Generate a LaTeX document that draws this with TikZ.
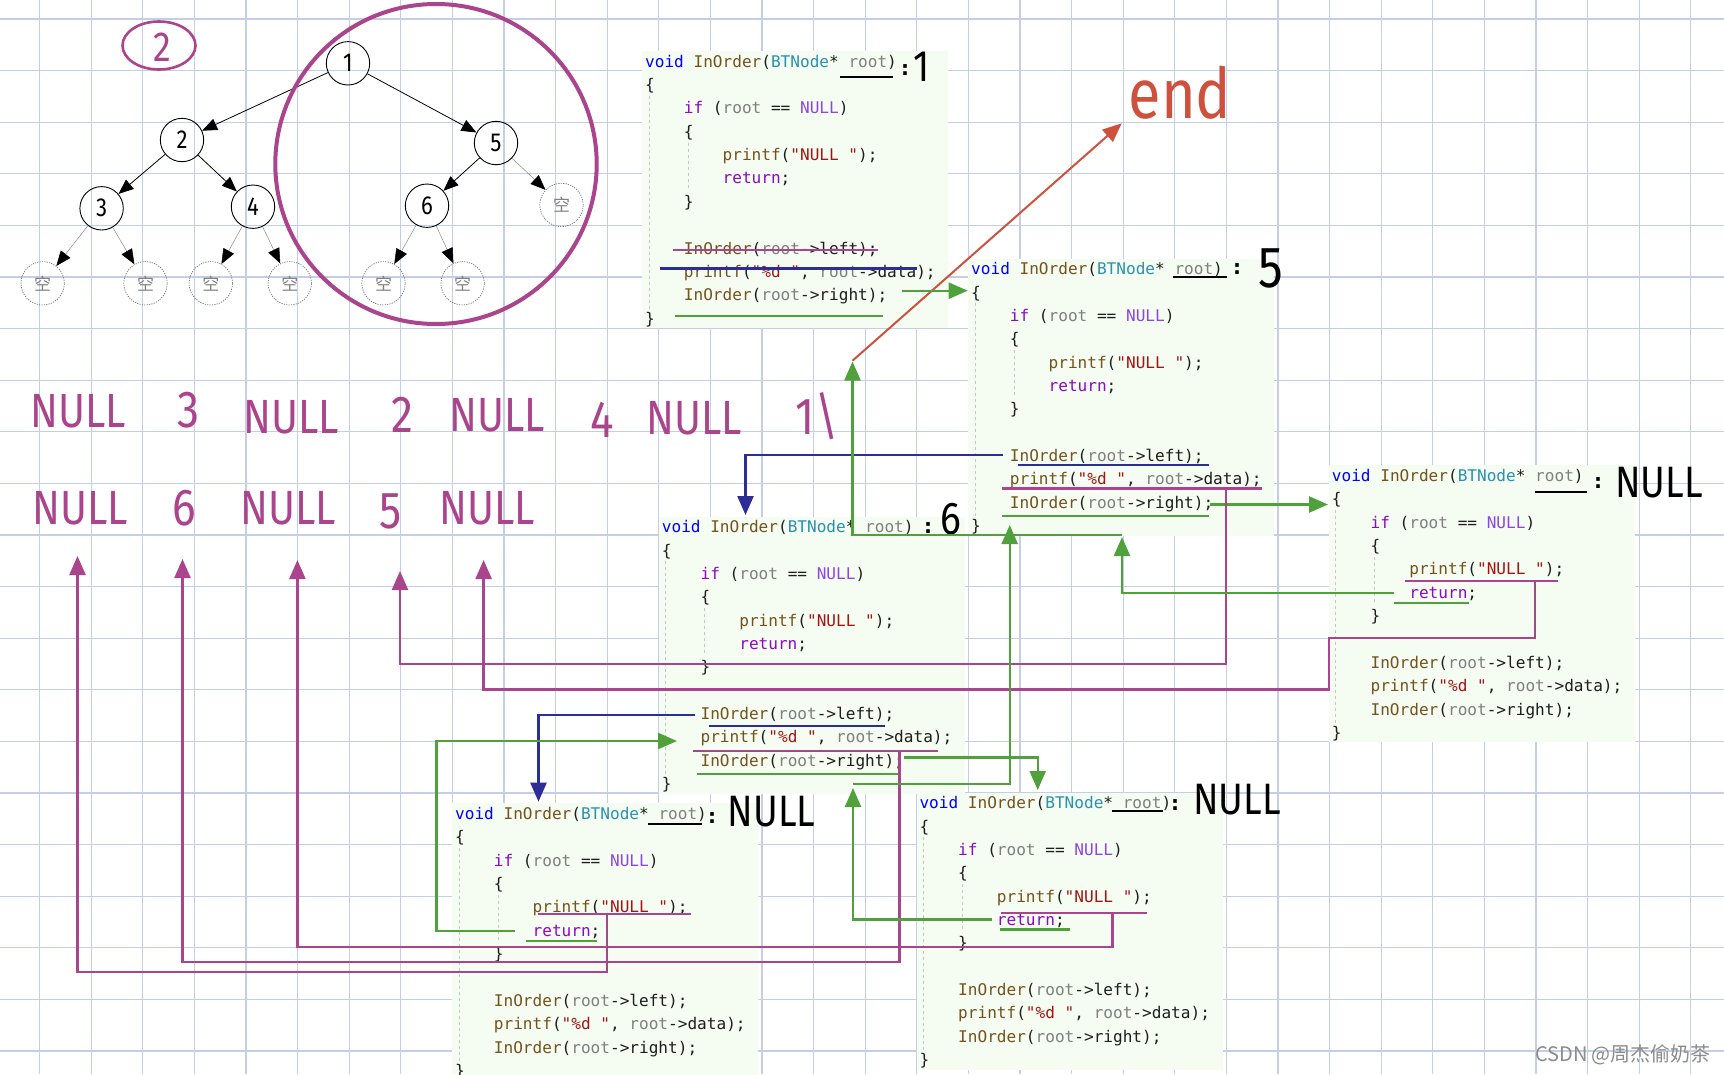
\documentclass[tikz,border=0pt]{standalone}
\usepackage{fontspec}
\usetikzlibrary{arrows.meta}
\newfontfamily\codefont{DejaVu Sans Mono}
\newfontfamily\handfont{Fira Sans}[FakeStretch=0.85]
\newfontfamily\cjkfont{Noto Sans CJK SC}
\newfontfamily\dotfont{DejaVu Sans}
\definecolor{gridc}{RGB}{196,206,230}
\definecolor{boxbg}{RGB}{245,252,241}
\definecolor{cvoid}{RGB}{0,0,255}
\definecolor{cfun}{RGB}{116,83,31}
\definecolor{ctype}{RGB}{43,145,175}
\definecolor{cpar}{RGB}{128,128,128}
\definecolor{ckey}{RGB}{143,8,196}
\definecolor{cmac}{RGB}{140,70,230}
\definecolor{cstr}{RGB}{163,21,21}
\definecolor{cpunc}{RGB}{30,30,30}
\definecolor{pinkc}{RGB}{170,68,140}
\definecolor{greenc}{RGB}{80,160,60}
\definecolor{bluec}{RGB}{45,45,150}
\definecolor{redc}{RGB}{205,82,62}
\newcommand\cf[2]{\textcolor{#1}{#2}}
\newcommand\codeblk[3]{%
  \node[cbox] (#1box) at ({#2-3},{#3-11}) {};
  \draw[guide] ({#2+4},{#3+34}) -- ({#2+4},{#3+251});
  \draw[guide] ({#2+43},{#3+81}) -- ({#2+43},{#3+129});
  \node[code] (#1l1) at (#2,{#3+1.5}) {\cf{cvoid}{void} \cf{cfun}{InOrder}(\cf{ctype}{BTNode}* \cf{cpar}{root})};
  \node[code] (#1l2) at (#2,{#3+1.5+23.35}) {\{};
  \node[code] (#1l3) at ({#2+38.72},{#3+1.5+46.7}) {\cf{ckey}{if} (\cf{cpar}{root} == \cf{cmac}{NULL})};
  \node[code] (#1l4) at ({#2+38.72},{#3+1.5+70.05}) {\{};
  \node[code] (#1l5) at ({#2+77.44},{#3+1.5+93.4}) {\cf{cfun}{printf}(\cf{cstr}{"NULL "});};
  \node[code] (#1l6) at ({#2+77.44},{#3+1.5+116.75}) {\cf{ckey}{return};};
  \node[code] (#1l7) at ({#2+38.72},{#3+1.5+140.1}) {\}};
  \node[code] (#1l9) at ({#2+38.72},{#3+1.5+186.8}) {\cf{cfun}{InOrder}(\cf{cpar}{root}->left);};
  \node[code] (#1l10) at ({#2+38.72},{#3+1.5+210.15}) {\cf{cfun}{printf}(\cf{cstr}{"\%d "}, \cf{cpar}{root}->data);};
  \node[code] (#1l11) at ({#2+38.72},{#3+1.5+233.5}) {\cf{cfun}{InOrder}(\cf{cpar}{root}->right);};
  \node[code] (#1l12) at (#2,{#3+1.5+256.85}) {\}};
}
\begin{document}
\begin{tikzpicture}[x=1pt,y=-1pt,
  gridline/.style={draw=gridc, line width=1.2pt},
  cbox/.style={rectangle, fill=boxbg, draw=none, anchor=north west, minimum width=306pt, minimum height=277pt, inner sep=0pt},
  guide/.style={draw=black!22, line width=0.8pt, dash pattern=on 3pt off 3pt},
  code/.style={anchor=west, inner sep=0pt, text=cpunc, text height=12pt, text depth=4pt, font=\codefont\fontsize{16.08}{18}\selectfont},
  tip/.style={-{Triangle[length=19pt,width=16pt]}},
  pinkln/.style={draw=pinkc, line width=2.4pt},
  greenln/.style={draw=greenc, line width=2.4pt},
  blueln/.style={draw=bluec, line width=2.4pt},
  blackln/.style={draw=black, line width=2pt},
  hand/.style={inner sep=0pt, text=pinkc, font=\handfont\fontsize{48}{48}\selectfont},
  handd/.style={inner sep=0pt, text=pinkc, font=\handfont\fontsize{52}{52}\selectfont},
  blab/.style={inner sep=0pt, text=black, font=\handfont\fontsize{44}{44}\selectfont},
  colon/.style={inner sep=0pt, text=black, font=\dotfont\bfseries\fontsize{20}{20}\selectfont},
  tnode/.style={circle, draw=black, line width=0.9pt, minimum size=43.4pt, inner sep=0pt, font=\handfont\fontsize{26}{26}\selectfont},
  leaf/.style={circle, draw=black!55, dash pattern=on 1.2pt off 1.2pt, line width=0.7pt, minimum size=43.4pt, inner sep=0pt, text=black!50, font=\cjkfont\fontsize{17}{17}\selectfont},
  tedge/.style={-{Triangle[length=15pt,width=12pt,color=black]}, draw=black, line width=0.8pt},
  ledge/.style={-{Triangle[length=15pt,width=12pt,color=black]}, draw=black!45, line width=0.5pt}
]
\useasboundingbox (0,0) rectangle (1724,1074);
\fill[white] (0,0) rectangle (1724,1074);
% grid
\foreach \i in {0,...,32} \draw[gridline] ({39.5+51.6*\i},0) -- ({39.5+51.6*\i},1074);
\foreach \j in {0,...,20} \draw[gridline] (0,{19+51.6*\j}) -- (1724,{19+51.6*\j});

% ---------- tree ----------
\node[tnode] (t1) at (348,63.3) {1};
\node[tnode] (t2) at (182,140) {2};
\node[tnode] (t5) at (496,143) {5};
\node[tnode] (t3) at (101.6,208.3) {3};
\node[tnode] (t4) at (253,206.7) {4};
\node[tnode] (t6) at (427,205.7) {6};
\node[leaf] (e5) at (561.5,205) {空};
\node[leaf] (la) at (42.7,283.3) {空};
\node[leaf] (lb) at (145.5,283.3) {空};
\node[leaf] (lc) at (210.8,283.3) {空};
\node[leaf] (ld) at (289.8,283.3) {空};
\node[leaf] (le) at (383.5,283.3) {空};
\node[leaf] (lf) at (462.6,283.3) {空};
\draw[tedge] (t1) -- (t2);
\draw[tedge] (t1) -- (t5);
\draw[tedge] (t2) -- (t3);
\draw[tedge] (t2) -- (t4);
\draw[tedge] (t5) -- (t6);
\draw[ledge] (t5) -- (e5);
\draw[ledge] (t3) -- (la);
\draw[ledge] (t3) -- (lb);
\draw[ledge] (t4) -- (lc);
\draw[ledge] (t4) -- (ld);
\draw[ledge] (t6) -- (le);
\draw[ledge] (t6) -- (lf);
\draw[draw=pinkc, line width=4pt] (436,164) ellipse [x radius=160.7, y radius=160];
\draw[draw=pinkc, line width=2.6pt] (159,45.5) ellipse [x radius=36.5, y radius=24];
\node[inner sep=0pt, text=pinkc, font=\handfont\fontsize{42}{42}\selectfont] (two) at (162,47) {2};

% ---------- code blocks ----------
\codeblk{A}{645}{61.7}
\codeblk{B}{971}{269.3}
\codeblk{C}{661.7}{527.3}
\codeblk{D}{1331.7}{476}
\codeblk{E}{455}{814}
\codeblk{F}{919.3}{803.3}

% ---------- header annotations ----------
\draw[blackln] (840,77.3) -- (893,77.3);
\node[colon] (cA) at (905,70) {:};
\node[blab, font=\handfont\fontsize{44}{44}\selectfont] (labA) at (922,67) {1};
\draw[blackln] (1173,277.3) -- (1226.7,277.3);
\node[colon] (cB) at (1237,269) {:};
\node[blab, font=\handfont\fontsize{58}{58}\selectfont] (labB) at (1271,268) {5};
\node[colon] (cC) at (928,528) {:};
\node[blab, font=\handfont\fontsize{46}{46}\selectfont] (labC) at (951,519) {6};
\draw[blackln] (1535,491.7) -- (1586.7,491.7);
\node[colon] (cD) at (1598,483) {:};
\node[blab] (labD) at (1659,482.5) {NULL};
\draw[blackln] (648,824.3) -- (701.7,824.3);
\node[colon] (cE) at (712,818) {:};
\node[blab] (labE) at (771.5,812) {NULL};
\draw[blackln] (1111.7,810.7) -- (1163.3,810.7);
\node[colon] (cF) at (1175,805) {:};
\node[blab] (labF) at (1237,800) {NULL};

% ---------- printed output ----------
\node[hand] (o1) at (78,411) {NULL};
\node[handd] (o2) at (189,410) {3};
\node[hand] (o3) at (291,417) {NULL};
\node[handd] (o4) at (402,415) {2};
\node[hand] (o5) at (497,415) {NULL};
\node[handd] (o6) at (602,420) {4};
\node[hand] (o7) at (694,418) {NULL};
\node[handd] (o8) at (817,416) {1\textbackslash};
\node[hand] (p1) at (80,508) {NULL};
\node[handd] (p2) at (184,508) {6};
\node[hand] (p3) at (288,508) {NULL};
\node[handd] (p4) at (391,511) {5};
\node[hand] (p5) at (487,508) {NULL};

% ---------- end ----------
\node[inner sep=0pt, text=redc, font=\handfont\fontsize{70}{70}\selectfont] (endlab) at (1180,93) {end};
\coordinate (redS) at (852.5,360.7);
\coordinate (redE) at (1121.7,123.3);
\draw[draw=redc, line width=2pt, tip] (redS) -- (redE);

% ---------- block A (node 1) ----------
\draw[pinkln] (672.7,250) -- (878.3,250);
\draw[blueln] (660,268.3) -- (917.3,268.3);
\draw[greenln] (675,315.7) -- (883.3,315.7);
\coordinate (gA1) at (901.7,290.7);
\coordinate (gA2) at (967.7,290.7);
\draw[greenln, tip] (gA1) -- (gA2);

% ---------- block B (node 5) ----------
\draw[blueln] (1018,465) -- (1209,465);
\draw[pinkln] (1001.7,488.3) -- (1261.7,488.3);
\draw[greenln] (1001.7,516) -- (1209.3,516);
\coordinate (bB1) at (1003,455.2);
\coordinate (bB2) at (745.5,455.2);
\coordinate (bB3) at (745.5,515);
\draw[blueln, tip] (bB1) -- (bB2) -- (bB3);
\coordinate (gB1) at (1209.5,504.5);
\coordinate (gB2) at (1328,504.5);
\draw[greenln, tip] (gB1) -- (gB2);
\coordinate (pB1) at (1225.7,488.3);
\coordinate (pB2) at (1225.7,664);
\coordinate (pB3) at (400,664);
\coordinate (pB4) at (400,571);
\draw[pinkln, tip] (pB1) -- (pB2) -- (pB3) -- (pB4);
\coordinate (gE1) at (1122,535);
\coordinate (gE2) at (852.5,535);
\coordinate (gE3) at (852.5,361.5);
\draw[greenln, tip] (gE1) -- (gE2) -- (gE3);

% ---------- block D (right NULL) ----------
\draw[pinkln] (1405,580.7) -- (1558.3,580.7);
\draw[greenln] (1394,602.7) -- (1469.3,602.7);
\coordinate (pD1) at (1535,580.7);
\coordinate (pD2) at (1535,638);
\coordinate (pD3) at (1329,638);
\coordinate (pD4) at (1329,689.4);
\coordinate (pD5) at (483.6,689.4);
\coordinate (pD6) at (483.6,560);
\draw[pinkln, tip] (pD1) -- (pD2) -- (pD3) -- (pD4) -- (pD5) -- (pD6);
\coordinate (gD1) at (1394,592.7);
\coordinate (gD2) at (1122,592.7);
\coordinate (gD3) at (1122,537);
\draw[greenln, tip] (gD1) -- (gD2) -- (gD3);

% ---------- block C (node 6) ----------
\draw[blueln] (709.3,726) -- (885,726);
\draw[pinkln] (693.3,750.7) -- (938.3,750.7);
\draw[greenln] (696.7,774) -- (898.3,774);
\coordinate (bC1) at (695,715);
\coordinate (bC2) at (538.5,715);
\coordinate (bC3) at (538.5,801.7);
\draw[blueln, tip] (bC1) -- (bC2) -- (bC3);
\coordinate (pC1) at (899.3,750.7);
\coordinate (pC2) at (899.3,961.7);
\coordinate (pC3) at (182.5,961.7);
\coordinate (pC4) at (182.5,559);
\draw[pinkln, tip] (pC1) -- (pC2) -- (pC3) -- (pC4);
\coordinate (gC1) at (904,757.3);
\coordinate (gC2) at (1037.7,757.3);
\coordinate (gC3) at (1037.7,790);
\draw[greenln, tip] (gC1) -- (gC2) -- (gC3);
\coordinate (gR1) at (853,784);
\coordinate (gR2) at (1009.7,784);
\coordinate (gR3) at (1009.7,525);
\draw[greenln, tip] (gR1) -- (gR2) -- (gR3);

% ---------- block E (bottom-left NULL) ----------
\draw[pinkln] (538.3,914) -- (690.7,914);
\draw[greenln] (526,940.7) -- (597.3,940.7);
\coordinate (pE1) at (606.7,914);
\coordinate (pE2) at (606.7,972);
\coordinate (pE3) at (77.5,972);
\coordinate (pE4) at (77.5,556);
\draw[pinkln, tip] (pE1) -- (pE2) -- (pE3) -- (pE4);
\coordinate (gEa) at (514.6,930.7);
\coordinate (gEb) at (436.5,930.7);
\coordinate (gEc) at (436.5,741);
\coordinate (gEd) at (677,741);
\draw[greenln, tip] (gEa) -- (gEb) -- (gEc) -- (gEd);

% ---------- block F (bottom-right NULL) ----------
\draw[pinkln] (1000.7,912.7) -- (1146.7,912.7);
\draw[greenln] (1000,929.3) -- (1070,929.3);
\coordinate (pF1) at (1112.3,912.7);
\coordinate (pF2) at (1112.3,946.7);
\coordinate (pF3) at (297.4,946.7);
\coordinate (pF4) at (297.4,560);
\draw[pinkln, tip] (pF1) -- (pF2) -- (pF3) -- (pF4);
\coordinate (gF1) at (991.7,919.3);
\coordinate (gF2) at (853,919.3);
\coordinate (gF3) at (853,788);
\draw[greenln, tip] (gF1) -- (gF2) -- (gF3);

% ---------- watermark ----------
\node[inner sep=0pt, text=black!45, font=\cjkfont\fontsize{20}{20}\selectfont] (wm) at (1623,1055) {CSDN @周杰偷奶茶};
\end{tikzpicture}
\end{document}
